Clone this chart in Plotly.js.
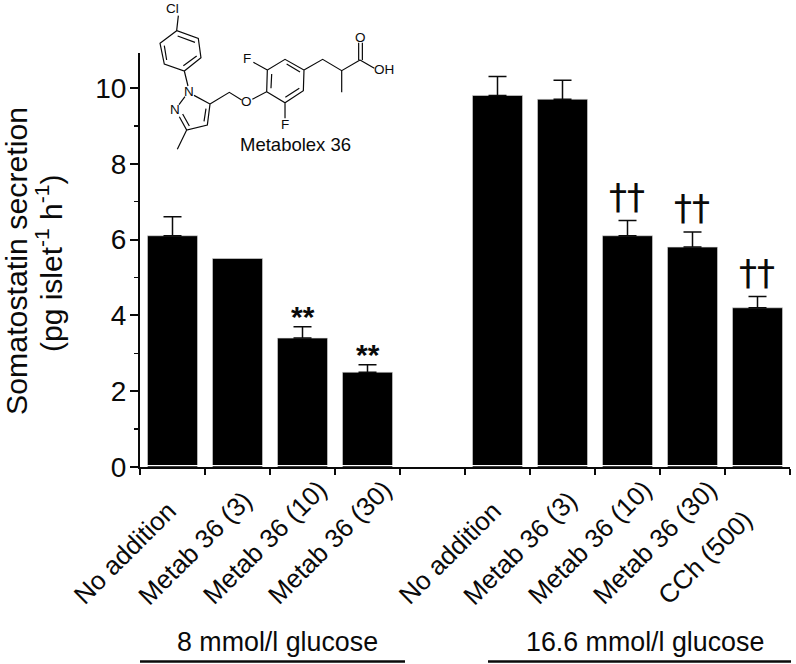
<!DOCTYPE html>
<html><head><meta charset="utf-8">
<script src="https://cdn.plot.ly/plotly-3.0.1.min.js"></script>
<style>html,body{margin:0;padding:0;background:#fff}</style></head>
<body><div id="chart" style="width:796px;height:664px"></div>
<script>
const FONT = '"Liberation Sans", Arial, sans-serif';
const INK = '#0a0a0a';
const W = 796, H = 664;
const M = {l:140, r:6, t:53, b:197};

const labels = ['No addition','Metab 36 (3)','Metab 36 (10)','Metab 36 (30)','No addition','Metab 36 (3)','Metab 36 (10)','Metab 36 (30)','CCh (500)'];
const positions = [0,1,2,3,5,6,7,8,9];
const values = [6.1,5.5,3.4,2.5,9.8,9.7,6.1,5.8,4.2];
const errors = [0.5,0,0.3,0.2,0.5,0.5,0.4,0.4,0.3];
const marks = ['','','**','**','','','††','††','††'];
const groupLabels = ['8 mmol/l glucose','16.6 mmol/l glucose'];
const yTitleLines = ['Somatostatin secretion','(pg islet<sup>-1</sup> h<sup>-1</sup>)'];

// Molecule sketch, in zoomed-crop units
const bonds = [
 [[145,47],[140,92],[205,115],[213,173],[163,213],[103,192],[90,130],[140,92]],
 [[143,108],[195,127]],[[200,168],[160,197]],[[110,180],[103,137]],
 [[163,213],[174,258]],
 [[192,286],[240,312],[232,375],[170,390],[148,350]],
 [[228,326],[222,364]],[[178,378],[158,342]],
 [[165,290],[147,314]],
 [[170,390],[142,448]],
 [[240,312],[298,277],[335,300]],
 [[367,298],[410,275],[412,210],[465,178],[522,210],[520,272],[465,308],[410,275]],
 [[423,265],[425,222]],[[470,192],[510,216]],[[508,265],[466,292]],
 [[412,210],[370,187]],[[465,308],[465,355]],
 [[522,210],[578,178],[635,212],[690,180]],[[635,212],[635,277]],
 [[686,180],[686,128]],[[697,180],[697,128]],
 [[690,180],[733,205]]
];
const atoms = [['Cl',128,25],['N',178,275],['N',135,330],['O',350,306],['F',352,177],['F',465,372],['O',691,112],['OH',761,210]];

const pw = W-M.l-M.r, ph = H-M.t-M.b;
const px = x => (x-M.l)/pw;
const py = y => (H-M.b-y)/ph;
const zx = x => px(130+x/3);
const zy = y => py(y/3);
const ann = (text,x,y,size,extra) => Object.assign({text,x,y,xref:'paper',yref:'paper',showarrow:false,
   font:{family:FONT,size,color:INK},xanchor:'center',yanchor:'middle'},extra||{});

const annotations = [];
labels.forEach((t,i)=>annotations.push({text:t,x:positions[i],xref:'x',xshift:-108,y:py(613),yref:'paper',
   textangle:-45,xanchor:'left',yanchor:'bottom',showarrow:false,font:{family:FONT,size:26,color:INK}}));
marks.forEach((t,i)=>{ if(!t) return;
   const star = t==='**';
   annotations.push({text:t,x:positions[i],xref:'x',xshift:star?0:-1,y:values[i]+errors[i],yref:'y',yshift:star?10:24,
     showarrow:false,yanchor:'middle',
     font:star?{family:FONT,size:30,color:INK,weight:700}:{family:'"DejaVu Sans", sans-serif',size:36,color:INK}});
});
annotations.push(ann(groupLabels[0],px(277.5),py(642),26.8));
annotations.push(ann(groupLabels[1],px(645),py(642),26.8));
annotations.push(ann('Metabolex 36',px(295),py(144),18.5));
annotations.push(ann(yTitleLines[0],px(16),py(261),30.3,{textangle:-90}));
annotations.push(ann(yTitleLines[1],px(49),py(263),30,{textangle:-90}));
atoms.forEach(a=>annotations.push(ann(a[0],zx(a[1]),zy(a[2]),13.5)));

const path = bonds.map(b=>b.map((p,i)=>(i?'L':'M')+zx(p[0]).toFixed(4)+','+zy(p[1]).toFixed(4)).join(' ')).join(' ');
const shapes = [
 {type:'path',path,xref:'paper',yref:'paper',line:{color:INK,width:1.2}},
 {type:'line',xref:'paper',yref:'paper',x0:px(141),x1:px(790),y0:py(465.5),y1:py(465.5),line:{color:'#fff',width:1}},
 {type:'line',xref:'paper',yref:'paper',x0:px(140),x1:px(405),y0:py(661.5),y1:py(661.5),line:{color:INK,width:2.5}},
 {type:'line',xref:'paper',yref:'paper',x0:px(488),x1:px(791),y0:py(661.5),y1:py(661.5),line:{color:INK,width:2.5}}
];

const withErr = positions.map((_,i)=>i).filter(i=>errors[i]>0);
const noErr = positions.map((_,i)=>i).filter(i=>!(errors[i]>0));
const pick = (arr,idx)=>idx.map(i=>arr[i]);
const barMarker = {color:'#000',line:{color:'#ddd',width:0.6}};
const data = [
 {type:'bar',x:pick(positions,withErr),y:pick(values,withErr),width:0.77,marker:barMarker,
  error_y:{type:'data',symmetric:false,array:pick(errors,withErr),arrayminus:withErr.map(()=>0),color:INK,thickness:1.5,width:9},
  hoverinfo:'skip'},
 {type:'bar',x:pick(positions,noErr),y:pick(values,noErr),width:0.77,marker:barMarker,hoverinfo:'skip'}
];

const layout = {width:W,height:H,margin:M,paper_bgcolor:'#fff',plot_bgcolor:'#fff',showlegend:false,barmode:'overlay',
  font:{family:FONT,color:INK},
  xaxis:{range:[-0.5,9.5],tickmode:'array',tickvals:[-0.5,0.5,1.5,2.5,3.5,4.5,5.5,6.5,7.5,8.5,9.5],showticklabels:false,
    ticks:'outside',ticklen:6,tickwidth:2,tickcolor:INK,showline:true,linewidth:2,linecolor:INK,showgrid:false,zeroline:false},
  yaxis:{range:[0,10.92],tickmode:'array',tickvals:[0,2,4,6,8,10],ticks:'outside',ticklen:8,tickwidth:2,tickcolor:INK,
    tickfont:{family:FONT,size:28,color:INK},ticklabelstandoff:-2,showline:true,linewidth:2,linecolor:INK,showgrid:false,zeroline:false,
    minor:{tickmode:'array',tickvals:[1,3,5,7,9],ticks:'outside',ticklen:4,tickwidth:1.5,tickcolor:INK,showgrid:false}},
  annotations,shapes};
Plotly.newPlot('chart',data,layout,{displayModeBar:false,staticPlot:true});
</script></body></html>
